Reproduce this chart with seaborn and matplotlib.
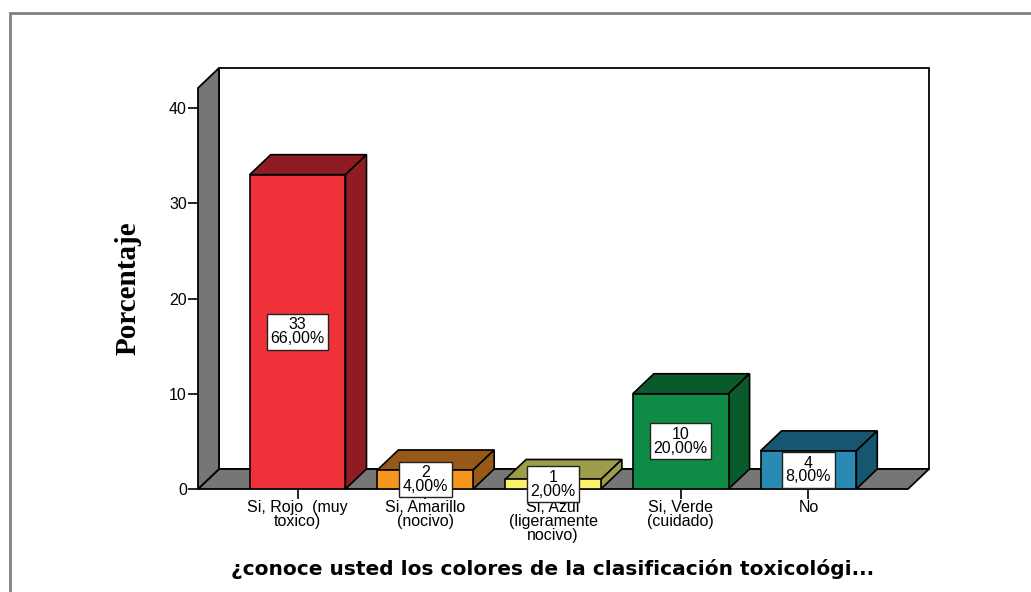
import numpy as np
import pandas as pd
import matplotlib
matplotlib.use("Agg")
import matplotlib.pyplot as plt
from matplotlib.patches import Polygon, Rectangle
import seaborn as sns

# ---- data ----
categories = ["Si, Rojo  (muy\ntoxico)", "Si, Amarillo\n(nocivo)", "Si, Azul\n(ligeramente\nnocivo)",
              "Si, Verde\n(cuidado)", "No"]
counts = [33, 2, 1, 10, 4]
percent_labels = ["66,00%", "4,00%", "2,00%", "20,00%", "8,00%"]
front_colors = ["#EF313A", "#F7961E", "#FDF26E", "#0F8B45", "#298BB4"]
dark_colors = ["#8E1C22", "#96591A", "#9C9C4A", "#0A5A2C", "#175670"]
y_ticks = [0, 10, 20, 30, 40]
x_title = "¿conoce usted los colores de la clasificación toxicológi..."
y_title = "Porcentaje"

sns.set_theme(style="white")
plt.rcParams["font.family"] = ["Liberation Sans", "DejaVu Sans"]
plt.rcParams["text.color"] = "black"

W, H = 1031, 592
fig = plt.figure(figsize=(W / 100, H / 100), dpi=100)
ax = fig.add_axes([198 / W, 1 - 489 / H, 710 / W, 401 / H])

df = pd.DataFrame({"cat": categories, "count": counts})
sns.barplot(data=df, x="cat", y="count", hue="cat", palette=front_colors, legend=False,
            width=0.75, edgecolor="black", linewidth=1.2, saturation=1, ax=ax, zorder=5)
bars = [p for c in ax.containers for p in c.patches]

ax.set_xlim(-0.78, 4.78)
ax.set_ylim(0, 42.1)
for s in ax.spines.values():
    s.set_visible(False)
ax.set_facecolor("none")

# depth offset in pixels -> data units
depth_px = (21, 20)
x0, x1 = ax.get_xlim()
y0, y1 = ax.get_ylim()
bbox = ax.get_window_extent()
ddx = depth_px[0] * (x1 - x0) / bbox.width
ddy = depth_px[1] * (y1 - y0) / bbox.height

wall = "#767676"
# back wall
ax.add_patch(Rectangle((x0 + ddx, y0 + ddy), x1 - x0, y1 - y0, facecolor="white",
                       edgecolor="black", lw=1.3, clip_on=False, zorder=0))
# floor
ax.add_patch(Polygon([(x0, y0), (x1, y0), (x1 + ddx, y0 + ddy), (x0 + ddx, y0 + ddy)],
                     closed=True, facecolor=wall, edgecolor="black", lw=1.3, clip_on=False, zorder=1))
# left wall
ax.add_patch(Polygon([(x0, y0), (x0, y1), (x0 + ddx, y1 + ddy), (x0 + ddx, y0 + ddy)],
                     closed=True, facecolor=wall, edgecolor="black", lw=1.3, clip_on=False, zorder=1))

for i, p in enumerate(bars):
    xl = p.get_x()
    xr = xl + p.get_width()
    h = p.get_height()
    top = Polygon([(xl, h), (xr, h), (xr + ddx, h + ddy), (xl + ddx, h + ddy)], closed=True,
                  facecolor=dark_colors[i], edgecolor="black", lw=1.2, clip_on=False, zorder=4)
    side = Polygon([(xr, 0), (xr, h), (xr + ddx, h + ddy), (xr + ddx, ddy)], closed=True,
                   facecolor=dark_colors[i], edgecolor="black", lw=1.2, clip_on=False, zorder=4)
    ax.add_patch(top)
    ax.add_patch(side)
    ax.text(xl + p.get_width() / 2, h / 2, f"{counts[i]}\n{percent_labels[i]}", ha="center", va="center",
            fontsize=11.5, linespacing=0.9, zorder=10, color="black",
            bbox=dict(boxstyle="square,pad=0.22", facecolor="white", edgecolor="#222222", lw=1.0))

ax.set_yticks(y_ticks)
ax.set_yticklabels([str(t) for t in y_ticks])
ax.set_xticks(range(len(categories)))
ax.set_xticklabels(categories, linespacing=0.9)
ax.tick_params(axis="both", which="both", direction="out", length=7, width=1.2, color="black",
               labelsize=11.5, labelcolor="black", pad=1, left=True, bottom=True)
ax.set_xlabel("")
ax.set_ylabel("")

fig.text(128 / W, 1 - 288 / H, y_title, rotation=90, ha="center", va="center",
         fontsize=21, fontweight="bold", family="Liberation Serif", color="black")
fig.text(553 / W, 1 - 569 / H, x_title, ha="center", va="center",
         fontsize=14.5, fontweight="bold", family="DejaVu Sans", color="black")

# outer frame
fig.add_artist(Rectangle((10 / W, -0.05), 1.1, 1 - 13 / H + 0.05, transform=fig.transFigure,
                         facecolor="none", edgecolor="#808080", lw=2))

fig.savefig("out.png", dpi=100)
